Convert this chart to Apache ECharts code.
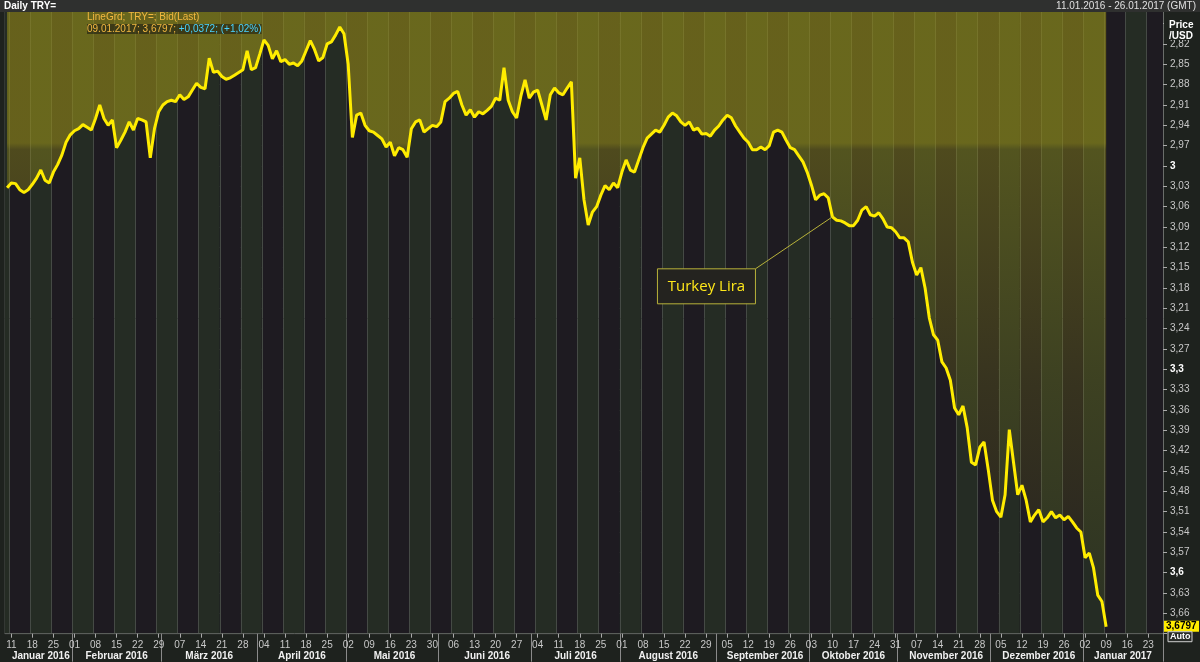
<!DOCTYPE html>
<html><head><meta charset="utf-8">
<script src="https://cdn.jsdelivr.net/npm/echarts@6/dist/echarts.min.js"></script>
<style>html,body{margin:0;padding:0;background:#1e221e;}#c{width:1200px;height:662px;}</style>
</head><body><div id="c"></div>
<script>
// ---- data ----
const firstDay = '2016-01-08';
const lastDay = '2017-01-26';
const monthNames = ['Januar','Februar','März','April','Mai','Juni','Juli','August','September','Oktober','November','Dezember'];
const yTicksShown = [2.82, 3.66];
// daily TRY per USD, weekdays from 08.01.2016 to 09.01.2017
const tryValues = [
3.032,3.025,3.026,3.035,3.039,3.035,3.027,3.018,3.006,3.021,
3.025,3.009,2.998,2.984,2.965,2.954,2.948,2.945,2.939,2.943,
2.947,2.930,2.910,2.930,2.940,2.932,2.973,2.962,2.950,2.935,
2.947,2.930,2.932,2.935,2.988,2.945,2.920,2.910,2.905,2.903,
2.905,2.895,2.902,2.898,2.888,2.878,2.884,2.886,2.841,2.862,
2.860,2.868,2.872,2.870,2.866,2.862,2.858,2.830,2.858,2.855,
2.835,2.814,2.822,2.842,2.830,2.846,2.843,2.850,2.848,2.852,
2.845,2.830,2.815,2.828,2.845,2.840,2.820,2.817,2.807,2.795,
2.805,2.850,2.958,2.925,2.922,2.940,2.948,2.950,2.955,2.960,
2.972,2.965,2.985,2.973,2.976,2.987,2.945,2.935,2.932,2.950,
2.945,2.940,2.942,2.935,2.905,2.900,2.893,2.890,2.910,2.925,
2.917,2.928,2.920,2.923,2.918,2.912,2.900,2.903,2.855,2.903,
2.920,2.929,2.897,2.873,2.900,2.891,2.888,2.910,2.932,2.895,
2.885,2.892,2.895,2.885,2.876,3.018,2.988,3.050,3.087,3.068,
3.060,3.043,3.029,3.035,3.025,3.032,3.009,2.991,3.006,3.009,
2.991,2.973,2.959,2.953,2.947,2.950,2.940,2.928,2.922,2.926,
2.935,2.940,2.935,2.947,2.944,2.953,2.952,2.956,2.947,2.941,
2.932,2.925,2.929,2.941,2.950,2.959,2.965,2.976,2.976,2.972,
2.976,2.970,2.950,2.947,2.950,2.962,2.973,2.976,2.985,2.994,
3.009,3.028,3.050,3.043,3.041,3.047,3.075,3.080,3.081,3.084,
3.088,3.088,3.080,3.065,3.060,3.072,3.074,3.069,3.078,3.090,
3.091,3.097,3.106,3.106,3.112,3.142,3.161,3.150,3.180,3.224,
3.249,3.257,3.289,3.298,3.316,3.357,3.367,3.354,3.386,3.437,
3.441,3.415,3.407,3.448,3.493,3.510,3.518,3.485,3.389,3.437,
3.485,3.471,3.493,3.525,3.515,3.507,3.525,3.519,3.510,3.519,
3.515,3.522,3.517,3.525,3.534,3.540,3.578,3.571,3.593,3.633,
3.6425,3.6797
];

// ---- categories (weekdays) ----
const categories = [];
(function(){
  let d = new Date(firstDay + 'T00:00:00Z');
  const end = new Date(lastDay + 'T00:00:00Z');
  while (d <= end) {
    const wd = d.getUTCDay();
    if (wd !== 0 && wd !== 6) categories.push(d.toISOString().slice(0,10));
    d = new Date(d.getTime() + 86400000);
  }
})();
const isMonday = (i) => new Date(categories[i] + 'T00:00:00Z').getUTCDay() === 1;
const monthOf = (i) => categories[i].slice(0,7);
const monthStart = (i) => i > 0 && monthOf(i) !== monthOf(i-1);
const monthMid = {};
(function(){
  const ranges = {};
  categories.forEach((c,i)=>{const m=monthOf(i); if(!ranges[m]) ranges[m]=[i,i]; else ranges[m][1]=i;});
  Object.keys(ranges).forEach(m=>{const r=ranges[m]; monthMid[Math.round((r[0]+r[1])/2)] = m;});
})();
const fmtNum = (v, dec) => v.toFixed(dec).replace('.', ',');
const yLabel = (v) => {
  const r = Math.round(v*100)/100;
  if (r < yTicksShown[0] - 1e-6 || r > yTicksShown[1] + 1e-6) return '';
  let s = String(r).replace('.', ',');
  if (Math.abs(r*10 - Math.round(r*10)) < 1e-6) return '{b|' + s + '}';
  return s;
};

const chart = echarts.init(document.getElementById('c'));
const FONT = 'Liberation Sans';
const lastIdx = tryValues.length - 1;
const lastVal = tryValues[lastIdx];
const prevVal = tryValues[lastIdx-1];
const chg = lastVal - prevVal;
const pct = chg / prevVal * 100;
const lastDate = categories[lastIdx].split('-').reverse().join('.');

chart.setOption({
  backgroundColor: '#1e221e',
  animation: false,
  grid: { left: 5, right: 37, top: 3.3, height: 630.4, show: true, backgroundColor: '#1f1c22', borderColor: '#4a4e4a', borderWidth: 1 },
  xAxis: [{
    type: 'category', data: categories, boundaryGap: true, position: 'bottom',
    axisLine: { show: true, lineStyle: { color: '#5a5e5a' } },
    axisTick: { show: true, interval: (i) => isMonday(i), alignWithLabel: true, length: 4, lineStyle: { color: '#aaa' } },
    axisLabel: { interval: (i) => isMonday(i), formatter: (v) => v.slice(8,10), color: '#c8c8c8', fontFamily: FONT, fontSize: 10, margin: 7 },
    splitLine: { show: true, interval: (i) => isMonday(i), lineStyle: { color: '#454a45', width: 1 } },
    splitArea: { show: true, interval: (i) => isMonday(i), areaStyle: { color: ['#252c24', '#1e1b21'] } }
  }, {
    type: 'category', data: categories, boundaryGap: true, position: 'bottom',
    axisLine: { show: false },
    axisTick: { show: true, interval: (i) => monthStart(i), length: 28, lineStyle: { color: '#8a8a8a' } },
    axisLabel: { interval: (i) => monthMid[i] !== undefined, formatter: (v) => { const m = +v.slice(5,7); return monthNames[m-1] + ' ' + v.slice(0,4); }, color: '#f0f0f0', fontWeight: 'bold', fontFamily: FONT, fontSize: 10, margin: 18 },
    splitLine: { show: false }
  }],
  yAxis: {
    type: 'value', position: 'right', inverse: true, min: 2.76, max: 3.69, interval: 0.03,
    axisLine: { show: true, lineStyle: { color: '#6a6e6a' } },
    axisTick: { show: true, length: 4, lineStyle: { color: '#aaa' } },
    axisLabel: { formatter: yLabel, color: '#c8c8c8', fontFamily: FONT, fontSize: 10, margin: 7,
      rich: { b: { color: '#ffffff', fontWeight: 'bold', fontFamily: FONT, fontSize: 10 } } },
    splitLine: { show: true, lineStyle: { color: '#454a45', width: 1 } }
  },
  series: [{
    type: 'line', data: tryValues, xAxisIndex: 0, yAxisIndex: 0, showSymbol: false, symbol: 'none',
    lineStyle: { color: '#ffec00', width: 3 },
    areaStyle: { origin: 'start', color: {
      type: 'linear', x: 0, y: 3, x2: 0, y2: 634, global: true,
      colorStops: [
        { offset: 0, color: 'rgba(150,143,24,0.86)' },
        { offset: 0.222, color: 'rgba(150,143,24,0.86)' },
        { offset: 0.232, color: 'rgba(150,143,24,0.58)' },
        { offset: 0.6, color: 'rgba(150,143,24,0.30)' },
        { offset: 1, color: 'rgba(150,143,24,0.08)' }
      ] } },
    z: 3
  }]
});

// ---- overlays ----
const anchorIdx = 196;
const ap = chart.convertToPixel({ seriesIndex: 0 }, [anchorIdx, tryValues[anchorIdx]]);
const lp = chart.convertToPixel({ seriesIndex: 0 }, [lastIdx, lastVal]);
const axisX = chart.getWidth() - 37;
chart.setOption({
  graphic: [
    { type: 'rect', shape: { x: 0, y: 0, width: 1200, height: 12 }, style: { fill: '#2f302f' }, z: 100 },
    { type: 'rect', shape: { x: axisX + 1, y: 12, width: 36, height: 28 }, style: { fill: '#1e221e' }, z: 100 },
    { type: 'text', x: 4, y: 6, style: { text: 'Daily TRY=', fill: '#ffffff', font: 'bold 10px ' + FONT, verticalAlign: 'middle' }, z: 101 },
    { type: 'text', x: 1196, y: 6, style: { text: categories[1].split('-').reverse().join('.') + ' - ' + lastDay.split('-').reverse().join('.') + ' (GMT)', fill: '#e0e0e0', font: '10px ' + FONT, align: 'right', verticalAlign: 'middle' }, z: 101 },
    { type: 'text', x: axisX + 6, y: 25, style: { text: 'Price', fill: '#ffffff', font: 'bold 10px ' + FONT, verticalAlign: 'middle' }, z: 101 },
    { type: 'text', x: axisX + 6, y: 36, style: { text: '/USD', fill: '#ffffff', font: 'bold 10px ' + FONT, verticalAlign: 'middle' }, z: 101 },
    { type: 'text', x: 87, y: 17, style: { text: 'LineGrd; TRY=; Bid(Last)', fill: '#f2b840', font: '10px ' + FONT, verticalAlign: 'middle' }, z: 101 },
    { type: 'text', x: 87, y: 29, style: {
        text: '{o|' + lastDate + '; ' + fmtNum(lastVal,4) + '; }{c|' + (chg>=0?'+':'') + fmtNum(chg,4) + '; (' + (pct>=0?'+':'') + fmtNum(pct,2) + '%)}',
        rich: { o: { fill: '#f2b840', font: '10px ' + FONT }, c: { fill: '#49d3ff', font: '10px ' + FONT } },
        backgroundColor: 'rgba(30,30,20,0.6)', verticalAlign: 'middle' }, z: 101 },
    // last value tag
    { type: 'rect', shape: { x: axisX + 1, y: lp[1] - 6, width: 35, height: 11 }, style: { fill: '#ffec00' }, z: 101 },
    { type: 'text', x: axisX + 3, y: lp[1], style: { text: fmtNum(lastVal,4), fill: '#000', font: 'bold 10px ' + FONT, verticalAlign: 'middle' }, z: 102 },
    { type: 'rect', shape: { x: axisX + 5, y: lp[1] + 5, width: 24, height: 10 }, style: { fill: '#2a2d2a', stroke: '#d0d0d0', lineWidth: 1 }, z: 101 },
    { type: 'text', x: axisX + 7, y: lp[1] + 10, style: { text: 'Auto', fill: '#ffffff', font: 'bold 9px ' + FONT, verticalAlign: 'middle' }, z: 102 },
    // annotation
    { type: 'line', shape: { x1: ap[0] - 77, y1: ap[1] + 52, x2: ap[0], y2: ap[1] }, style: { stroke: '#b8b23a', lineWidth: 1 }, z: 50 },
    { type: 'rect', shape: { x: ap[0] - 175, y: ap[1] + 52, width: 98, height: 35 }, style: { fill: '#24231f', stroke: '#b8b23a', lineWidth: 1 }, z: 50 },
    { type: 'text', x: ap[0] - 126, y: ap[1] + 70, style: { text: 'Turkey Lira', fill: '#ffe81a', font: '15px "Open Sans"', align: 'center', verticalAlign: 'middle' }, z: 51 }
  ]
});
</script></body></html>
